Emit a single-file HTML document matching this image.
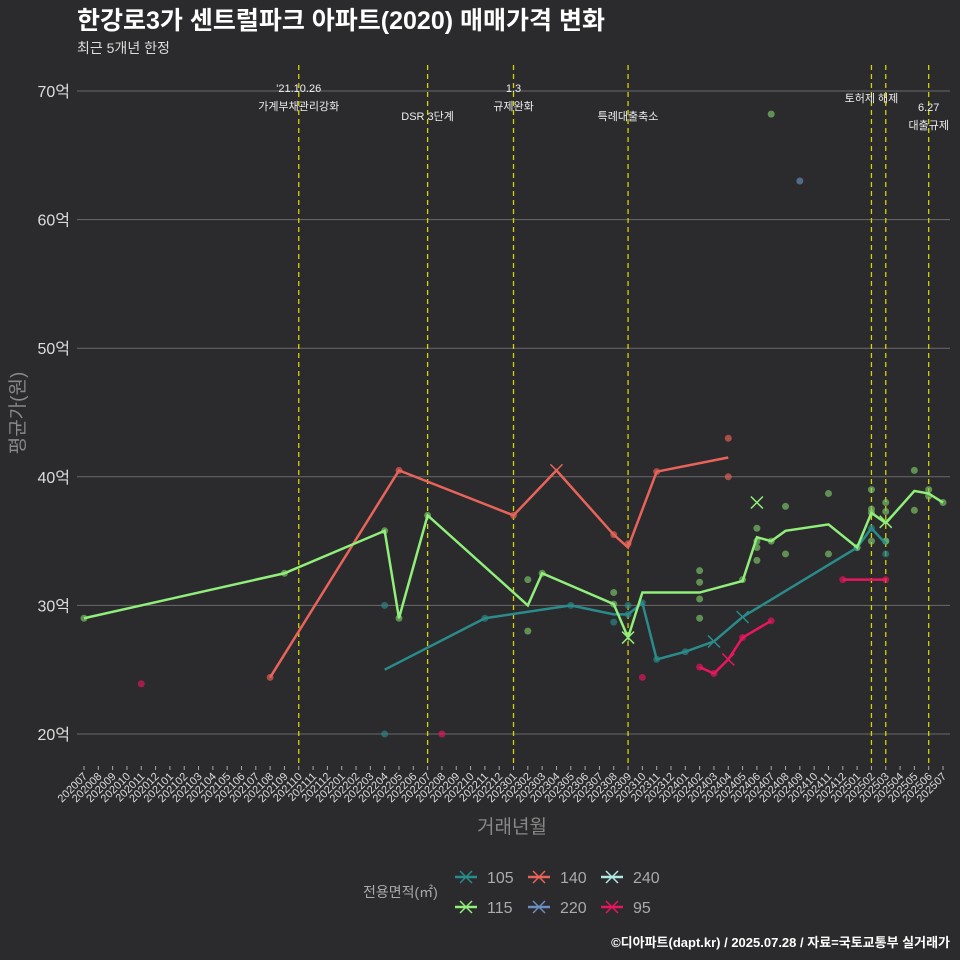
<!DOCTYPE html>
<html><head><meta charset="utf-8"><style>
body{margin:0;background:#2b2a2c;}
svg{display:block;font-family:"Liberation Sans","Noto Sans CJK KR",sans-serif;}
</style></head><body>
<svg id="c" width="960" height="960" viewBox="0 0 960 960">
<rect width="960" height="960" fill="#2b2a2c"/>
<text x="77" y="29" font-size="25" font-weight="bold" fill="#fff">한강로3가 센트럴파크 아파트(2020) 매매가격 변화</text>
<text x="77" y="53" font-size="14" fill="#ddd">최근 5개년 한정</text>
<g id="grid"></g><g id="ann"></g><g id="series"></g><g id="axes"></g>
<text x="512" y="833" font-size="19" fill="#888" text-anchor="middle">거래년월</text>
<text transform="translate(24,413) rotate(-90)" font-size="19" fill="#888" text-anchor="middle">평균가(원)</text>
<g id="legend"></g>
<text x="950" y="947" font-size="13" font-weight="bold" fill="#fff" text-anchor="end">©디아파트(dapt.kr) / 2025.07.28 / 자료=국토교통부 실거래가</text>
</svg>
<script>
const months=[];for(let y=2020;y<=2025;y++)for(let m=1;m<=12;m++){const k=y*100+m;if(k>=202007&&k<=202507)months.push(String(k));}
const yTicks=[20,30,40,50,60,70];
const seriesNames=["105","115","140","220","240","95"];
const seriesColors={"105":"#2a8b8b","115":"#90ee7a","140":"#e8645a","220":"#6c8ebf","240":"#b0e8e6","95":"#e8175d"};
const line105=[["202204",25.0],["202211",29.0],["202305",30.0],["202308",29.3],["202309",29.3],["202310",30.2],["202311",25.8],["202401",26.4],["202403",27.2],["202405",29.1],["202501",34.5],["202502",36.0],["202503",34.8]];
const line115=[["202007",29.0],["202109",32.5],["202204",35.8],["202205",29.0],["202207",37.0],["202302",30.0],["202303",32.5],["202308",30.1],["202309",27.5],["202310",31.0],["202402",31.0],["202405",31.9],["202406",35.3],["202407",35.0],["202408",35.8],["202411",36.3],["202501",34.5],["202502",37.2],["202503",36.4],["202505",38.9],["202506",38.7],["202507",38.0]];
const line140=[["202108",24.4],["202205",40.5],["202301",37.0],["202304",40.5],["202308",35.5],["202309",34.5],["202311",40.4],["202404",41.5]];
const line95a=[["202402",25.2],["202403",24.7],["202404",25.8],["202405",27.5],["202407",28.8]];
const line95b=[["202412",32.0],["202503",32.0]];
const pts105=[["202204",30.0],["202204",20.0],["202211",29.0],["202305",30.0],["202308",28.7],["202309",30.0],["202309",29.3],["202310",30.2],["202311",25.8],["202401",26.4],["202501",34.5],["202502",36.0],["202503",35.0],["202503",34.0]];
const pts115=[["202007",29.0],["202109",32.5],["202204",35.8],["202205",29.0],["202207",37.0],["202302",32.0],["202302",28.0],["202303",32.5],["202308",31.0],["202308",30.1],["202402",32.7],["202402",31.8],["202402",30.5],["202402",29.0],["202405",32.0],["202406",36.0],["202406",35.0],["202406",34.5],["202406",33.5],["202407",68.2],["202407",35.0],["202408",37.7],["202408",34.0],["202411",38.7],["202411",34.0],["202501",34.5],["202502",39.0],["202502",37.5],["202502",37.2],["202502",35.0],["202503",38.0],["202503",37.3],["202503",35.0],["202505",40.5],["202505",37.4],["202506",39.0],["202506",38.5],["202507",38.0]];
const pts140=[["202108",24.4],["202205",40.5],["202301",37.0],["202308",35.5],["202309",34.8],["202311",40.4],["202404",43.0],["202404",40.0]];
const pts220=[["202409",63.0]];
const pts95=[["202011",23.9],["202208",20.0],["202310",24.4],["202402",25.2],["202403",24.7],["202405",27.5],["202407",28.8],["202412",32.0],["202503",32.0]];
const xMarks=[["115","202309",27.5],["115","202406",38.0],["115","202503",36.5],["140","202304",40.5],["105","202403",27.2],["105","202405",29.1],["95","202404",25.8]];
const events=[["202110","'21.10.26","가계부채관리강화",88],["202207","","DSR 3단계",98],["202301","1.3","규제완화",88],["202309","","특례대출축소",98],["202502","","토허제 해제",80],["202503","","",80],["202506","6.27","대출규제",107]];
const NS="http://www.w3.org/2000/svg";
const X=m=>84+months.indexOf(m)*14.317, Y=v=>734-(v-20)*12.86;
function mk(t,a,p){const e=document.createElementNS(NS,t);for(const k in a)e.setAttribute(k,a[k]);p.appendChild(e);return e;}
const G=document.getElementById('grid'),A=document.getElementById('ann'),S=document.getElementById('series'),AX=document.getElementById('axes'),L=document.getElementById('legend');
yTicks.forEach(v=>{const l=mk('line',{x1:77,x2:950,y1:Y(v),y2:Y(v),stroke:'#6a6a6a','stroke-width':1},G);

const t=mk('text',{x:70,y:Y(v)+6,'font-size':16,fill:'#ddd','text-anchor':'end'},AX);t.textContent=v+'억';
});
months.forEach(m=>{const x=X(m);const tk=mk('line',{x1:x,x2:x,y1:766,y2:770,stroke:'#aaa'},AX);

const t=mk('text',{transform:`translate(${x+4},777) rotate(-45)`,'font-size':11,fill:'#ddd','text-anchor':'end'},AX);t.textContent=m;
});
events.forEach(e=>{const x=X(e[0]);const l=mk('line',{x1:x,x2:x,y1:65,y2:766,stroke:'#d4d400','stroke-width':1.3,'stroke-dasharray':'5,4'},A);

if(e[1]){const t=mk('text',{x:x,y:e[3]+4,'font-size':11,fill:'#eee','text-anchor':'middle'},A);t.textContent=e[1];}
if(e[2]){const t=mk('text',{x:x,y:e[3]+22,'font-size':11,fill:'#eee','text-anchor':'middle'},A);t.textContent=e[2];}});
function drawPts(arr,c,name){arr.forEach(p=>{const d=mk('circle',{cx:X(p[0]),cy:Y(p[1]),r:3.5,fill:c,'fill-opacity':0.65},S);
});}
function drawLine(arr,c,name){const p=mk('polyline',{points:arr.map(q=>X(q[0])+','+Y(q[1])).join(' '),fill:'none',stroke:c,'stroke-width':2.5},S);
}
drawPts(pts105,seriesColors["105"],'point-105');drawPts(pts115,"#7cc86a",'point-115');drawPts(pts140,seriesColors["140"],'point-140');drawPts(pts220,seriesColors["220"],'point-220');drawPts(pts95,seriesColors["95"],'point-95');
drawLine(line105,seriesColors["105"],'line-105');drawLine(line140,seriesColors["140"],'line-140');drawLine(line115,seriesColors["115"],'line-115');drawLine(line95a,seriesColors["95"],'line-95');drawLine(line95b,seriesColors["95"],'line-95-late');
xMarks.forEach(p=>{const x=X(p[1]),y=Y(p[2]);const g=mk('path',{d:`M${x-6} ${y-6}L${x+6} ${y+6}M${x-6} ${y+6}L${x+6} ${y-6}`,stroke:seriesColors[p[0]],'stroke-width':1.5},S);
});
const lt=mk('text',{x:363,y:897,'font-size':14,fill:'#aaa'},L);lt.textContent='전용면적(㎡)';
const order=[["105",0,0],["140",1,0],["240",2,0],["115",0,1],["220",1,1],["95",2,1]];
order.forEach(o=>{const x=455+o[1]*73,y=877+o[2]*30;const g=mk('g',{},L);
const c=seriesColors[o[0]];mk('line',{x1:x,x2:x+22,y1:y,y2:y,stroke:c,'stroke-width':2.5},g);
mk('path',{d:`M${x+5} ${y-6}L${x+17} ${y+6}M${x+5} ${y+6}L${x+17} ${y-6}`,stroke:c,'stroke-width':1.5},g);
const t=mk('text',{x:x+32,y:y+6,'font-size':16,fill:'#aaa'},g);t.textContent=o[0];});
</script>
</body></html>
